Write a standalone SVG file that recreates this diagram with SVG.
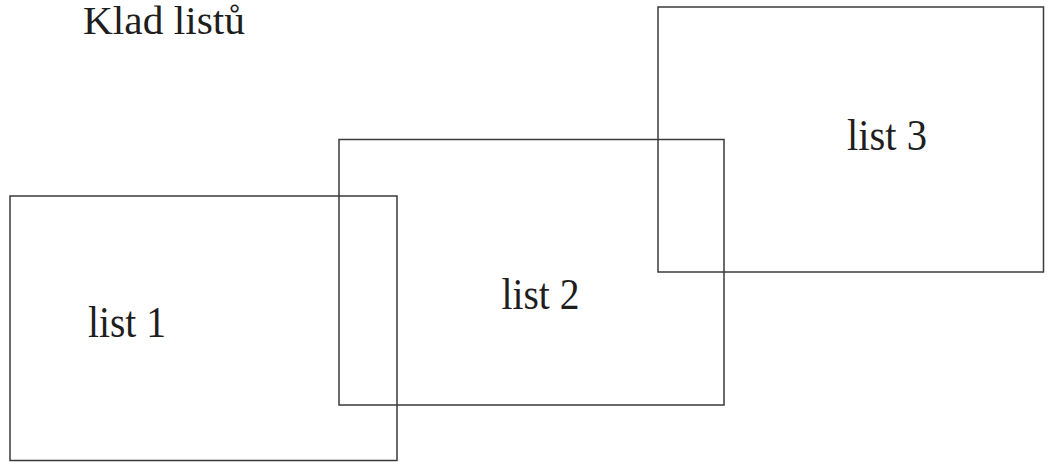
<svg xmlns="http://www.w3.org/2000/svg" width="1050" height="462" viewBox="0 0 1050 462">
<style>
.sheet{fill:none;stroke:#3a3a3a;stroke-width:1.5}
.lbl{font-family:"Liberation Serif","Times New Roman",serif;font-size:44px;fill:#1e1e1e}
.ttl{font-size:40px}
</style>
<rect width="1050" height="462" fill="#fff"/>
<text class="lbl ttl" x="83" y="34" textLength="162" lengthAdjust="spacingAndGlyphs">Klad listů</text>
<g id="list1">
<rect class="sheet" x="10" y="196" width="387" height="264.5"/>
<text class="lbl" x="88" y="337" textLength="78" lengthAdjust="spacingAndGlyphs">list 1</text>
</g>
<g id="list2">
<rect class="sheet" x="339" y="139.5" width="385" height="265.5"/>
<text class="lbl" x="501.5" y="309" textLength="78" lengthAdjust="spacingAndGlyphs">list 2</text>
</g>
<g id="list3">
<rect class="sheet" x="658" y="7" width="385.5" height="265"/>
<text class="lbl" x="847" y="150" textLength="80" lengthAdjust="spacingAndGlyphs">list 3</text>
</g>
<g id="connectors"></g>
</svg>
